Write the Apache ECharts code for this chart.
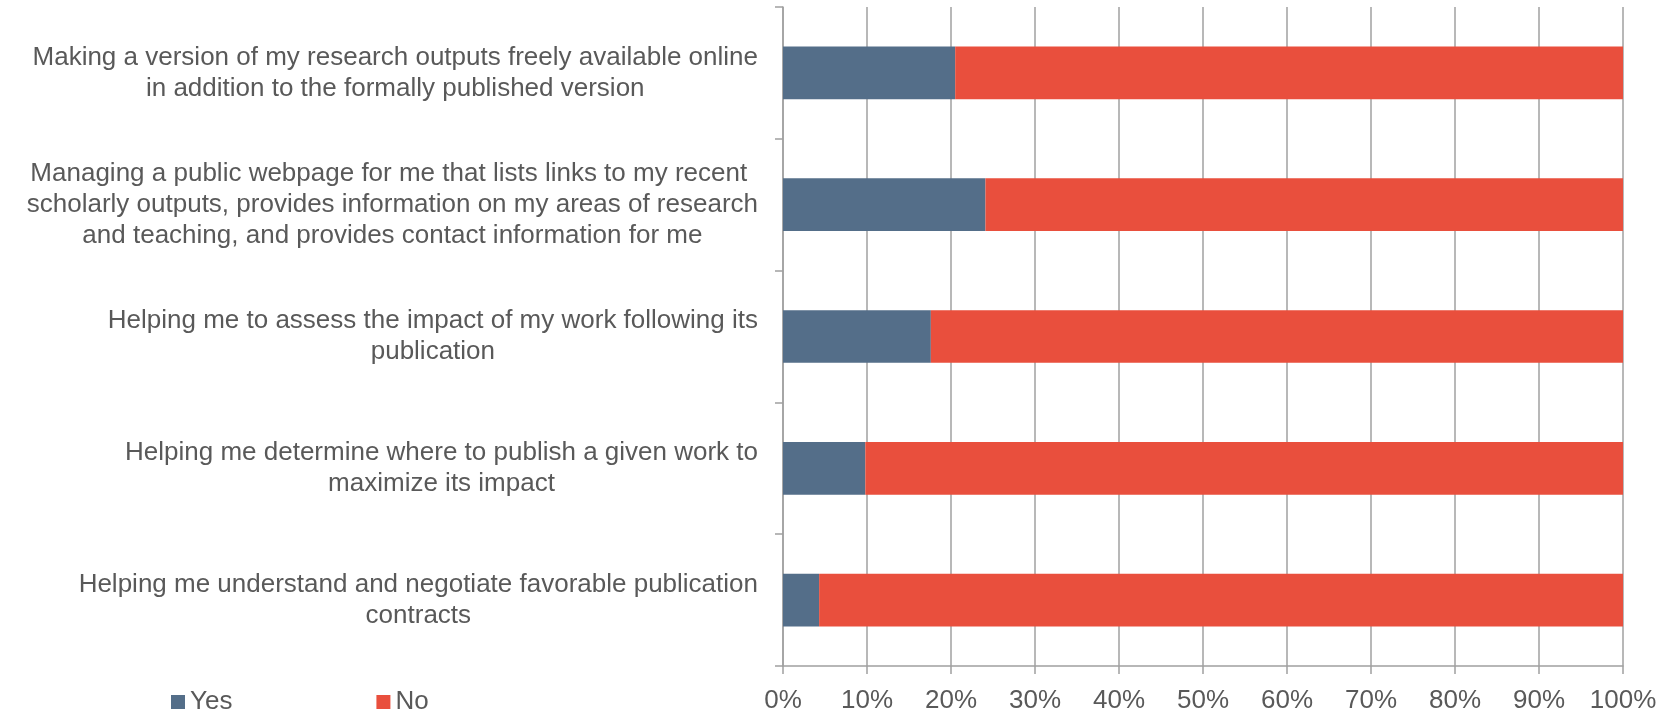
<!DOCTYPE html>
<html>
<head>
<meta charset="utf-8">
<style>
  html, body { margin: 0; padding: 0; background: #fff; }
  #chart { width: 1660px; height: 712px; }
</style>
<script src="https://cdn.jsdelivr.net/npm/echarts@6/dist/echarts.min.js"></script>
</head>
<body>
<div id="chart"></div>
<script>
const categories = [
  'Making a version of my research outputs freely available online\nin addition to the formally published version',
  'Managing a public webpage for me that lists links to my recent \nscholarly outputs, provides information on my areas of research\nand teaching, and provides contact information for me',
  'Helping me to assess the impact of my work following its\npublication',
  'Helping me determine where to publish a given work to\nmaximize its impact',
  'Helping me understand and negotiate favorable publication\ncontracts'
]
const yesValues = [20.5, 24.1, 17.6, 9.8, 4.3]
const noValues = [79.5, 75.9, 82.4, 90.2, 95.7]
const seriesNames = ['Yes', 'No']

const textColor = '#595959'
const lineColor = '#a0a0a0'
const font = '"Liberation Sans", Arial, sans-serif'

const chart = echarts.init(document.getElementById('chart'))

chart.setOption({
  animation: false,
  textStyle: { fontFamily: font },
  grid: {
    left: 783, right: 37, top: 7, bottom: 46,
    containLabel: false,
    outerBoundsMode: 'none'
  },
  legend: {
    left: 171,
    top: 689,
    padding: 0,
    icon: 'rect',
    itemWidth: 14,
    itemHeight: 14,
    itemGap: 144,
    data: seriesNames,
    textStyle: { color: textColor, fontSize: 26, fontFamily: font }
  },
  xAxis: {
    type: 'value',
    min: 0,
    max: 100,
    interval: 10,
    axisLine: { show: true, lineStyle: { color: lineColor, width: 1.5 } },
    axisTick: { show: true, length: 8, lineStyle: { color: lineColor, width: 1.5 } },
    splitLine: { show: true, lineStyle: { color: lineColor, width: 1.5 } },
    axisLabel: {
      formatter: '{value}%',
      color: textColor,
      fontSize: 26,
      fontFamily: font,
      margin: 22
    }
  },
  yAxis: {
    type: 'category',
    inverse: true,
    data: categories,
    axisLine: { show: true, lineStyle: { color: lineColor, width: 1.5 } },
    axisTick: { show: true, length: 8, lineStyle: { color: lineColor, width: 1.5 } },
    axisLabel: {
      color: textColor,
      fontSize: 26,
      fontFamily: font,
      lineHeight: 31,
      margin: 25,
      align: 'right',
      formatter: value => value.split('\n').map(line => '{c|' + line + '}').join('\n'),
      rich: {
        c: { align: 'center', color: textColor, fontSize: 26, fontFamily: font, lineHeight: 31 }
      }
    }
  },
  series: [
    {
      name: seriesNames[0],
      type: 'bar',
      stack: 'total',
      barCategoryGap: '60%',
      data: yesValues,
      itemStyle: { color: '#546e89' }
    },
    {
      name: seriesNames[1],
      type: 'bar',
      stack: 'total',
      barCategoryGap: '60%',
      data: noValues,
      itemStyle: { color: '#e94f3d' }
    }
  ]
})
</script>
</body>
</html>
